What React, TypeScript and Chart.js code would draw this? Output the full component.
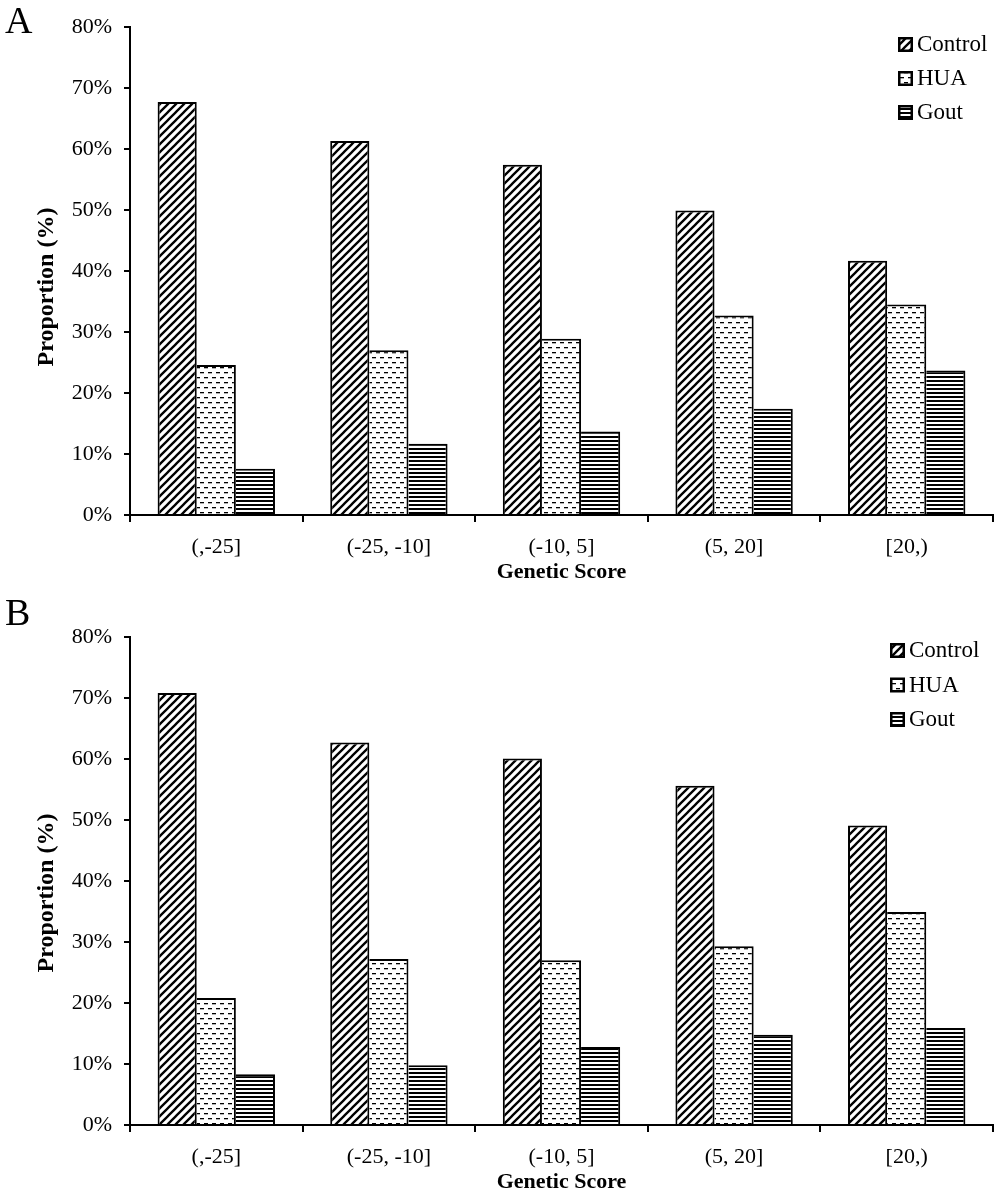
import React, { useEffect, useRef } from 'react';
import { Chart, registerables } from 'chart.js';

Chart.register(...registerables);

const categories = ['(,-25]', '(-25, -10]', '(-10, 5]', '(5, 20]', '[20,)'];
const seriesNames = ['Control', 'HUA', 'Gout'];
const yTickLabels = ['0%', '10%', '20%', '30%', '40%', '50%', '60%', '70%', '80%'];

const controlA = [67.7, 61.3, 57.4, 49.9, 41.7];
const huaA = [24.6, 27.0, 28.9, 32.7, 34.5];
const goutA = [7.6, 11.7, 13.7, 17.4, 23.7];

const controlB = [70.8, 62.7, 60.1, 55.6, 49.1];
const huaB = [20.8, 27.2, 27.0, 29.3, 34.9];
const goutB = [8.3, 9.8, 12.8, 14.8, 15.9];

const FONT = "'Liberation Serif', 'Times New Roman', serif";

function makePattern(kind: string): CanvasPattern | string {
  const c = document.createElement('canvas');
  const ctx = c.getContext('2d');
  if (!ctx) return '#fff';
  if (kind === 'diag') {
    c.width = 8; c.height = 8;
    ctx.fillStyle = '#fff';
    ctx.fillRect(0, 0, 8, 8);
    ctx.strokeStyle = '#000';
    ctx.lineWidth = 2.3;
    ctx.beginPath();
    ctx.moveTo(-2, 10); ctx.lineTo(10, -2);
    ctx.moveTo(-2, 2); ctx.lineTo(2, -2);
    ctx.moveTo(6, 10); ctx.lineTo(10, 6);
    ctx.stroke();
  } else if (kind === 'dash') {
    c.width = 8; c.height = 10;
    ctx.fillStyle = '#fff';
    ctx.fillRect(0, 0, 8, 10);
    ctx.fillStyle = '#000';
    ctx.fillRect(0, 2, 4, 1.3);
    ctx.fillRect(4, 7, 4, 1.3);
  } else {
    c.width = 4; c.height = 4;
    ctx.fillStyle = '#fff';
    ctx.fillRect(0, 0, 4, 4);
    ctx.fillStyle = '#000';
    ctx.fillRect(0, 0, 4, 2);
  }
  const p = ctx.createPattern(c, 'repeat');
  return p || '#fff';
}

type PanelCfg = {
  label: string;
  top: number;
  height: number;
  padTop: number;
  xHeight: number;
  xTitlePad: number;
  yTitleY: number;
  labelBaseline: number;
  legendX: number;
  legendY: number;
  legendStep: number;
  control: number[];
  hua: number[];
  gout: number[];
};

const panels: PanelCfg[] = [
  { label: 'A', top: 0, height: 596, padTop: 27, xHeight: 81, xTitlePad: 10, yTitleY: 287, labelBaseline: 33, legendX: 898, legendY: 44, legendStep: 34, control: controlA, hua: huaA, gout: goutA },
  { label: 'B', top: 596, height: 600, padTop: 41, xHeight: 71, xTitlePad: 0, yTitleY: 297, labelBaseline: 29, legendX: 890, legendY: 54, legendStep: 34.5, control: controlB, hua: huaB, gout: goutB },
];

function Panel({ cfg }: { cfg: PanelCfg }) {
  const ref = useRef<HTMLCanvasElement | null>(null);
  useEffect(() => {
    if (!ref.current) return;
    const patterns = [makePattern('diag'), makePattern('dash'), makePattern('horiz')];
    const values = [cfg.control, cfg.hua, cfg.gout];
    const borders = [
      { left: 2, top: 2, right: 2, bottom: 0 },
      { left: 0, top: 2, right: 2, bottom: 0 },
      { left: 0, top: 2, right: 2, bottom: 0 },
    ];
    const extras = {
      id: 'extras',
      afterDraw(chart: any) {
        const ctx = chart.ctx as CanvasRenderingContext2D;
        ctx.save();
        ctx.fillStyle = '#000';
        ctx.font = `38px ${FONT}`;
        ctx.textAlign = 'left';
        ctx.textBaseline = 'alphabetic';
        ctx.fillText(cfg.label, 5, cfg.labelBaseline);
        ctx.save();
        ctx.translate(47, cfg.yTitleY);
        ctx.rotate(-Math.PI / 2);
        ctx.font = `bold 24px ${FONT}`;
        ctx.textAlign = 'center';
        ctx.textBaseline = 'middle';
        ctx.fillText('Proportion (%)', 0, 0);
        ctx.restore();
        chart.data.datasets.forEach((ds: any, i: number) => {
          const yc = cfg.legendY + i * cfg.legendStep;
          ctx.fillStyle = ds.backgroundColor;
          ctx.fillRect(cfg.legendX, yc - 7, 15, 15);
          ctx.strokeStyle = '#000';
          ctx.lineWidth = 2.5;
          ctx.strokeRect(cfg.legendX + 1.25, yc - 5.75, 12.5, 12.5);
          ctx.fillStyle = '#000';
          ctx.font = `23px ${FONT}`;
          ctx.textAlign = 'left';
          ctx.textBaseline = 'middle';
          ctx.fillText(ds.label, cfg.legendX + 19, yc + 1);
        });
        ctx.restore();
      },
    };
    const chart = new Chart(ref.current, {
      type: 'bar',
      data: {
        labels: categories,
        datasets: seriesNames.map((name, i) => ({
          label: name,
          data: values[i],
          backgroundColor: patterns[i] as any,
          borderColor: '#000',
          borderWidth: borders[i] as any,
          borderSkipped: false,
          categoryPercentage: 0.68,
          barPercentage: 1.0,
        })),
      },
      options: {
        animation: false,
        responsive: true,
        maintainAspectRatio: false,
        layout: { padding: { top: cfg.padTop, right: 7, left: 0, bottom: 0 } },
        plugins: { legend: { display: false }, tooltip: { enabled: false } },
        scales: {
          x: {
            grid: { offset: true, drawOnChartArea: false, drawTicks: true, tickLength: 7, color: '#000', lineWidth: 2 },
            border: { color: '#000', width: 2 },
            ticks: { color: '#000', font: { family: FONT, size: 22 }, padding: 12, autoSkip: false, maxRotation: 0 },
            title: { display: true, text: 'Genetic Score', color: '#000', font: { family: FONT, size: 22, weight: 'bold' }, padding: { top: 0, bottom: cfg.xTitlePad } },
            afterFit: (s: any) => { s.height = cfg.xHeight; },
          },
          y: {
            min: 0,
            max: 80,
            ticks: {
              stepSize: 10,
              color: '#000',
              font: { family: FONT, size: 22 },
              padding: 12,
              callback: (_v: any, i: number) => yTickLabels[i],
            },
            grid: { drawOnChartArea: false, drawTicks: true, tickLength: 6, color: '#000', lineWidth: 2 },
            border: { color: '#000', width: 2 },
            afterFit: (s: any) => { s.width = 130; },
          },
        },
      } as any,
      plugins: [extras],
    });
    return () => chart.destroy();
  }, [cfg]);
  return (
    <div style={{ position: 'absolute', left: 0, top: cfg.top, width: 1000, height: cfg.height }}>
      <canvas ref={ref} />
    </div>
  );
}

export default function App() {
  return (
    <div style={{ position: 'absolute', left: 0, top: 0, width: 1000, height: 1193, background: '#fff', overflow: 'hidden' }}>
      {panels.map((p) => (
        <Panel key={p.label} cfg={p} />
      ))}
    </div>
  );
}
